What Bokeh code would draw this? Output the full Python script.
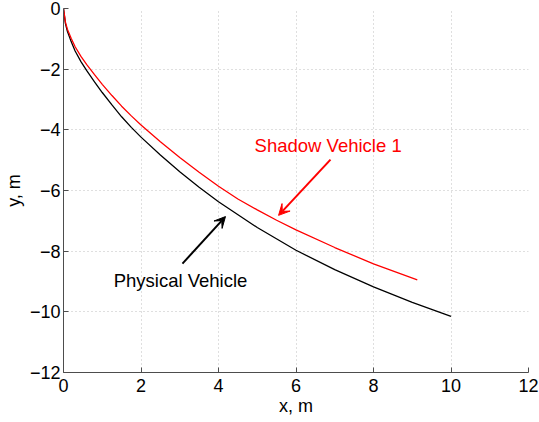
from bokeh.plotting import figure
from bokeh.models import Label, Arrow, VeeHead, FixedTicker, Range1d
from bokeh.embed import file_html
from bokeh.resources import INLINE

# Trajectories (x, y in metres)
physical_x = [0, 0.05, 0.1, 0.2, 0.3, 0.45, 0.6, 0.8, 1.0, 1.25, 1.5, 1.75, 2.0,
              2.5, 3.0, 3.5, 4.0, 5.0, 6.0, 7.0, 8.0, 9.0, 10.0]
physical_y = [0, -0.5, -0.75, -1.1, -1.4, -1.75, -2.05, -2.42, -2.77, -3.18, -3.57,
              -3.92, -4.24, -4.83, -5.38, -5.89, -6.37, -7.22, -7.97, -8.61, -9.18,
              -9.69, -10.15]

shadow_x = [0, 0.05, 0.1, 0.2, 0.3, 0.45, 0.6, 0.8, 1.0, 1.25, 1.5, 1.75, 2.0,
            2.5, 3.0, 3.5, 4.0, 4.5, 5.0, 5.5, 6.0, 7.0, 8.0, 9.13]
shadow_y = [0, -0.45, -0.68, -0.99, -1.26, -1.58, -1.85, -2.18, -2.5, -2.87, -3.22,
            -3.54, -3.84, -4.39, -4.91, -5.40, -5.86, -6.28, -6.64, -6.98, -7.30,
            -7.88, -8.42, -8.95]

x_ticks = [0, 2, 4, 6, 8, 10, 12]
y_ticks = [-12, -10, -8, -6, -4, -2, 0]

FONT = "Liberation Sans"

p = figure(width=539, height=422, output_backend="svg", toolbar_location=None,
           x_range=Range1d(0, 12), y_range=Range1d(-12, 0),
           min_border_left=63, min_border_right=11, min_border_top=8,
           min_border_bottom=50)
p.outline_line_color = None
p.background_fill_color = "white"
p.border_fill_color = "white"

p.line(physical_x, physical_y, line_color="black", line_width=1.3)
p.line(shadow_x, shadow_y, line_color="#ff0000", line_width=1.3)

# Axes
p.xaxis.ticker = FixedTicker(ticks=x_ticks)
p.yaxis.ticker = FixedTicker(ticks=y_ticks)
p.xaxis.major_label_overrides = {t: str(t) for t in x_ticks}
p.yaxis.major_label_overrides = {t: (("\u2212" + str(-t)) if t < 0 else str(t)) for t in y_ticks}
p.xaxis.axis_label = "x, m"
p.yaxis.axis_label = "y, m"
for ax in (p.xaxis, p.yaxis):
    ax.axis_line_color = "#4d4d4d"
    ax.major_tick_line_color = "#4d4d4d"
    ax.major_tick_in = 5
    ax.major_tick_out = 0
    ax.minor_tick_line_color = None
    ax.major_label_text_font = FONT
    ax.major_label_text_font_size = "18px"
    ax.major_label_text_color = "black"
    ax.axis_label_text_font = FONT
    ax.axis_label_text_font_size = "18px"
    ax.axis_label_text_font_style = "normal"
    ax.axis_label_text_color = "black"
p.xaxis.major_label_standoff = 6
p.yaxis.major_label_standoff = 3
p.xaxis.axis_label_standoff = 1
p.yaxis.axis_label_standoff = 3

for g in (p.xgrid, p.ygrid):
    g.grid_line_color = "#bfbfbf"
    g.grid_line_dash = "1 3"
    g.grid_line_width = 1

# Annotations
p.add_layout(Arrow(end=VeeHead(size=11, fill_color="#ff0000", line_color="#ff0000"),
                   x_start=6.89, y_start=-4.98, x_end=5.55, y_end=-6.82,
                   line_color="#ff0000", line_width=2))
p.add_layout(Arrow(end=VeeHead(size=11, fill_color="black", line_color="black"),
                   x_start=3.07, y_start=-8.41, x_end=4.18, y_end=-6.86,
                   line_color="black", line_width=2))

p.add_layout(Label(x=6.83, y=-4.52, text="Shadow Vehicle 1", text_color="#ff0000",
                   text_font=FONT, text_font_size="18.5px",
                   text_align="center", text_baseline="middle"))
p.add_layout(Label(x=3.02, y=-8.97, text="Physical Vehicle", text_color="black",
                   text_font=FONT, text_font_size="18.5px",
                   text_align="center", text_baseline="middle"))

open("out.html", "w").write(file_html(p, INLINE))
